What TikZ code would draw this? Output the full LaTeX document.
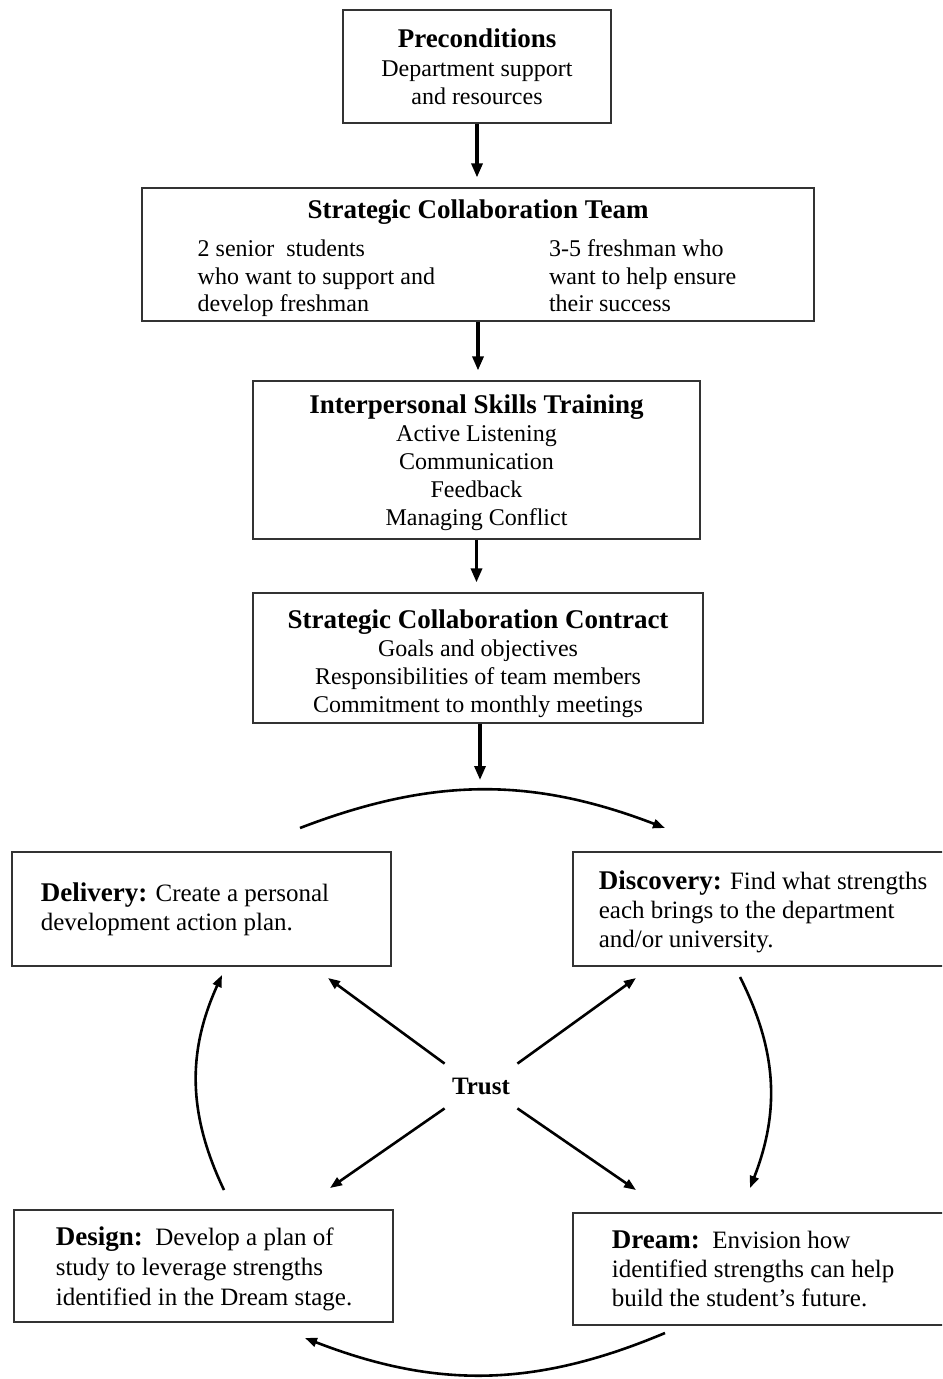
\documentclass[tikz,border=0pt]{standalone}
\usepackage{fontspec}
\setmainfont{Liberation Serif}
\usetikzlibrary{arrows.meta}

\newcommand{\boxtitle}[1]{{\fontsize{13.5}{15}\selectfont\bfseries #1}}
\newcommand{\stagelabel}[1]{{\fontsize{13.5}{14.5}\selectfont\bfseries #1}}

\begin{document}
\begin{tikzpicture}[x=0.5pt, y=-0.5pt,
  box/.style={draw=black!80, line width=0.6pt, inner sep=0pt, align=center,
    font=\fontsize{12}{13.8}\selectfont},
  stagebox/.style={draw=black!80, line width=0.6pt, inner sep=0pt},
  stagetext/.style={anchor=west, inner sep=0pt, align=left,
    font=\fontsize{12.5}{14.5}\selectfont},
  flow/.style={line width=1.6pt, -{Triangle[length=7pt,width=5.5pt]}, shorten >=5pt},
  cyclearrow/.style={line width=1.3pt, -{Triangle[length=6pt,width=4.5pt]}},
]
\useasboundingbox (0,0) rectangle (942,1379);
\clip (0,0) rectangle (942,1379);

% Setup chain
\node[box, minimum width=134pt, minimum height=56.5pt] (pre) at (477,66.5)
  {\boxtitle{Preconditions}\\[1pt] Department support\\ and resources};

\node[box, minimum width=336pt, minimum height=66.5pt] (team) at (478,254.5)
  {\rule{0pt}{15pt}\boxtitle{Strategic Collaboration Team}\\[5pt]
   \hspace*{-11pt}\begin{tabular}[t]{@{}l@{\hspace{57pt}}l@{}}
   2 senior\ \ students & 3-5 freshman who\\
   who want to support and & want to help ensure\\
   develop freshman & their success
   \end{tabular}};

\node[box, minimum width=223.5pt, minimum height=79pt,
  font=\fontsize{12}{14}\selectfont] (skills) at (476.5,460)
  {\rule{0pt}{12.5pt}\boxtitle{Interpersonal Skills Training}\\ Active Listening\\ Communication\\
   Feedback\\ Managing Conflict};

\node[box, minimum width=225pt, minimum height=65pt,
  font=\fontsize{12}{14}\selectfont] (contract) at (478,658)
  {\rule{0pt}{15pt}\boxtitle{Strategic Collaboration Contract}\\ Goals and objectives\\
   Responsibilities of team members\\ Commitment to monthly meetings};

\coordinate (loopTop) at (480,780);

\draw[flow] (pre.south) -- (pre.south |- team.north);
\draw[flow] (team.south) -- (team.south |- skills.north);
\draw[flow] (skills.south) -- (skills.south |- contract.north);
\draw[flow, shorten >=0pt] (contract.south -| loopTop) -- (loopTop);

% The four stages
\node[stagebox, minimum width=189.5pt, minimum height=57pt] (deliv) at (201.5,909) {};
\node[stagetext] (delivtxt) at ([xshift=14.5pt]deliv.west)
  {\stagelabel{Delivery:} Create a personal\\ development action plan.};

\node[stagebox, minimum width=203.5pt, minimum height=57pt] (disc) at (776.5,909) {};
\node[stagetext] (disctxt) at ([xshift=13pt,yshift=-1.5pt]disc.west)
  {\stagelabel{Discovery:} Find what strengths\\ each brings to the department\\
   and/or university.};

\node[stagebox, minimum width=189.5pt, minimum height=56pt] (design) at (203.5,1266) {};
\node[stagetext, font=\fontsize{12.5}{15}\selectfont] (designtxt)
  at ([xshift=21pt,yshift=-1.5pt]design.west)
  {\stagelabel{Design:}\ \ Develop a plan of\\ study to leverage strengths\\
   identified in the Dream stage.};

\node[stagebox, minimum width=203.5pt, minimum height=56pt] (dream) at (776.5,1269) {};
\node[stagetext] (dreamtxt) at ([xshift=19.5pt]dream.west)
  {\stagelabel{Dream:}\ \ Envision how\\ identified strengths can help\\
   build the student's future.};

% Trust in the middle
\node[font=\fontsize{12.5}{14}\selectfont\bfseries, inner sep=0pt,
  minimum width=36pt, minimum height=22pt] (trust) at (481,1086) {Trust};

\coordinate (tDeliv) at (328,978);
\coordinate (tDisc) at (636,978);
\coordinate (tDesign) at (330,1188);
\coordinate (tDream) at (636,1190);

\draw[cyclearrow] (trust.north west) -- (tDeliv);
\draw[cyclearrow] (trust.north east) -- (tDisc);
\draw[cyclearrow] (trust.south west) -- (tDesign);
\draw[cyclearrow] (trust.south east) -- (tDream);

% Cycle round the stages
\coordinate (arcA) at (300,828);
\coordinate (arcB) at (665,828);
\coordinate (arcC) at (740,977);
\coordinate (arcD) at (750,1188);
\coordinate (arcE) at (665,1333);
\coordinate (arcF) at (305,1338);
\coordinate (arcG) at (224,1190);
\coordinate (arcH) at (222,975);

\draw[cyclearrow] (arcA) to[bend left=21] (arcB);
\draw[cyclearrow] (arcC) to[bend left=24] (arcD);
\draw[cyclearrow] (arcE) to[bend left=22] (arcF);
\draw[cyclearrow] (arcG) to[bend left=25] (arcH);

\end{tikzpicture}
\end{document}
